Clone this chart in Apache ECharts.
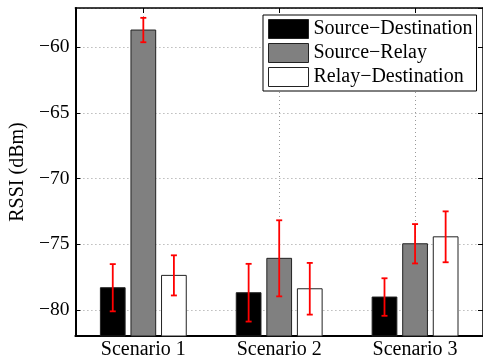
<!DOCTYPE html>
<html>
<head>
<meta charset="utf-8">
<script src="https://cdn.jsdelivr.net/npm/echarts@6/dist/echarts.min.js"></script>
<style>
  html, body { margin: 0; padding: 0; background: #fff; }
  #chart { width: 483px; height: 360px; }
</style>
</head>
<body>
<div id="chart"></div>
<script>
// Mean RSSI per link and scenario, with the half-width of each error bar (dB)
const categories = ['Scenario 1', 'Scenario 2', 'Scenario 3'];
const seriesNames = ['Source\u2212Destination', 'Source\u2212Relay', 'Relay\u2212Destination'];
const srcDestMean = [-78.32, -78.70, -79.03];
const srcDestErr  = [1.80, 2.20, 1.43];
const srcRelayMean = [-58.68, -76.08, -74.97];
const srcRelayErr  = [0.93, 2.90, 1.50];
const relayDestMean = [-77.38, -78.40, -74.44];
const relayDestErr  = [1.53, 1.97, 1.94];

const Y_MIN = -82;
const Y_MAX = -57;

const FONT = 'Liberation Serif';
const fills = ['#000000', '#808080', '#ffffff'];
const offsets = [-0.225, 0, 0.225];   // bar centre offsets in category-band units
const BAR_FRAC = 0.182;               // bar width as a fraction of the band

function minusLabel(v) {
  return v < 0 ? '\u2212' + Math.abs(v) : String(v);
}

function barSeries(name, means, errs, k) {
  return {
    type: 'custom',
    name: name,
    xAxisIndex: 0,
    yAxisIndex: 0,
    z: 5,
    itemStyle: { color: fills[k], borderColor: '#222', borderWidth: 1 },
    encode: { x: 0, y: 1 },
    data: means.map((m, i) => [i, m, errs[i]]),
    renderItem: function (params, api) {
      const i = api.value(0);
      const v = api.value(1);
      const e = api.value(2);
      const band = api.size([1, 0])[0];
      const p = api.coord([i, v]);
      const cx = p[0] + offsets[k] * band;
      const w = band * BAR_FRAC;
      const base = api.coord([i, Y_MIN])[1];
      const eTop = api.coord([i, v + e])[1];
      const eBot = api.coord([i, v - e])[1];
      const cap = 3;
      const red = { stroke: '#ff0000', lineWidth: 1.8 };
      return {
        type: 'group',
        children: [
          { type: 'rect', shape: { x: cx - w / 2, y: p[1], width: w, height: base - p[1] },
            style: { fill: fills[k], stroke: '#222', lineWidth: 1 } },
          { type: 'line', shape: { x1: cx, y1: eTop, x2: cx, y2: eBot }, style: red, z2: 10 },
          { type: 'line', shape: { x1: cx - cap, y1: eTop, x2: cx + cap, y2: eTop }, style: red, z2: 10 },
          { type: 'line', shape: { x1: cx - cap, y1: eBot, x2: cx + cap, y2: eBot }, style: red, z2: 10 }
        ]
      };
    }
  };
}

const chart = echarts.init(document.getElementById('chart'), null, { renderer: 'canvas' });

const dotted = { color: '#999', width: 1, type: [1, 3] };
const oddOnly = (idx) => idx % 2 === 1;

chart.setOption({
  animation: false,
  backgroundColor: '#fff',
  textStyle: { fontFamily: FONT },
  grid: { left: 71, right: -2, top: 8, bottom: 24, containLabel: false },
  legend: {
    orient: 'vertical',
    left: 263,
    top: 15,
    padding: [4, 4, 4, 5],
    itemWidth: 40,
    itemHeight: 19,
    itemGap: 4,
    backgroundColor: '#fff',
    borderColor: '#000',
    borderWidth: 1,
    selectedMode: false,
    textStyle: { fontFamily: FONT, fontSize: 20, color: '#000' },
    data: seriesNames.map((n, k) => ({
      name: n,
      icon: 'rect',
      itemStyle: { color: fills[k], borderColor: '#222', borderWidth: 1 }
    }))
  },
  xAxis: [
    {
      type: 'category',
      position: 'bottom',
      data: categories,
      boundaryGap: true,
      axisLine: { show: true, lineStyle: { color: '#000', width: 2 } },
      axisTick: { show: true, inside: true, alignWithLabel: true, length: 5, lineStyle: { color: '#000' } },
      axisLabel: { fontFamily: FONT, fontSize: 20, color: '#000', margin: 4 },
      splitLine: { show: false }
    },
    {
      // top frame edge with gridlines and ticks through the category centres
      type: 'category',
      position: 'top',
      data: ['a', 'b', 'c', 'd', 'e', 'f', 'g'],
      boundaryGap: false,
      axisLine: { show: true, lineStyle: { color: '#000', width: 1.5 } },
      axisTick: { show: true, inside: true, length: 5, interval: oddOnly, lineStyle: { color: '#000' } },
      axisLabel: { show: false },
      splitLine: { show: true, interval: oddOnly, lineStyle: dotted }
    }
  ],
  yAxis: [
    {
      type: 'value',
      position: 'left',
      min: Y_MIN,
      max: Y_MAX,
      splitNumber: 5,
      name: 'RSSI (dBm)',
      nameLocation: 'middle',
      nameGap: 40,
      nameTextStyle: { fontFamily: FONT, fontSize: 20, color: '#000' },
      axisLine: { show: true, lineStyle: { color: '#000', width: 2 } },
      axisTick: { show: true, inside: true, length: 5, lineStyle: { color: '#000' } },
      axisLabel: {
        fontFamily: FONT, fontSize: 19.5, color: '#000', margin: 6,
        showMinLabel: false, showMaxLabel: false,
        formatter: (v) => (v % 5 === 0 ? minusLabel(v) : '')
      },
      splitLine: { show: true, lineStyle: dotted }
    },
    {
      type: 'value',
      position: 'right',
      min: Y_MIN,
      max: Y_MAX,
      splitNumber: 5,
      axisLine: { show: true, lineStyle: { color: '#000', width: 1.5 } },
      axisTick: { show: true, inside: true, length: 5, lineStyle: { color: '#000' } },
      axisLabel: { show: false },
      splitLine: { show: false }
    }
  ],
  series: [
    barSeries(seriesNames[0], srcDestMean, srcDestErr, 0),
    barSeries(seriesNames[1], srcRelayMean, srcRelayErr, 1),
    barSeries(seriesNames[2], relayDestMean, relayDestErr, 2)
  ]
});
</script>
</body>
</html>
